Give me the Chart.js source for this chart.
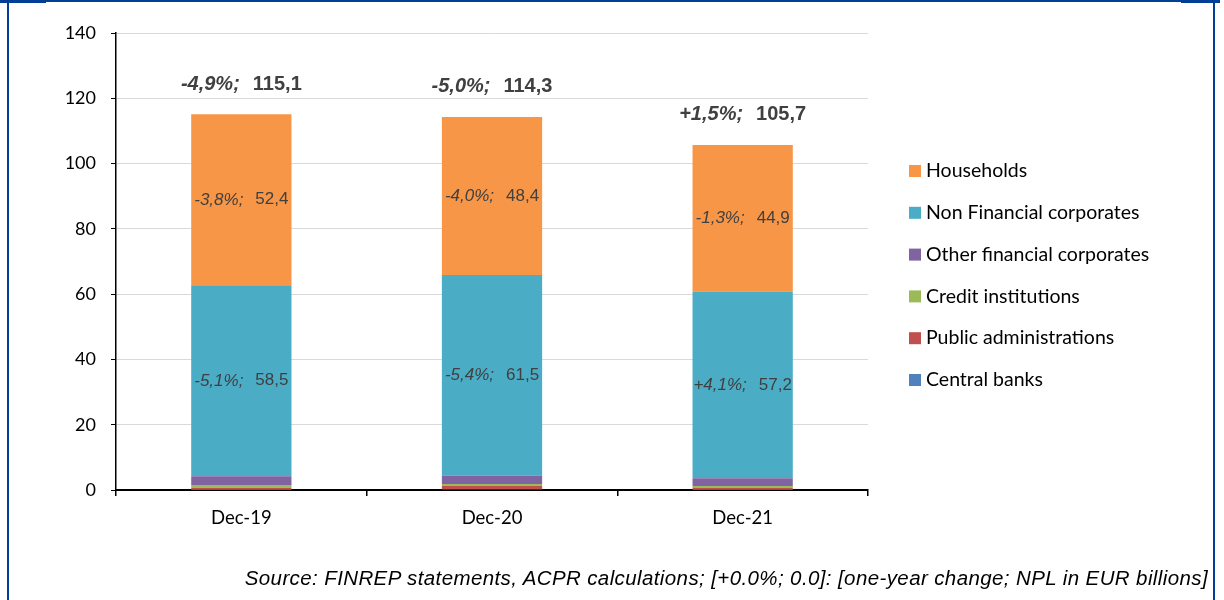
<!DOCTYPE html>
<html>
<head>
<meta charset="utf-8">
<script src="https://cdn.jsdelivr.net/npm/chart.js@4.4.1/dist/chart.umd.min.js"></script>
<style>
  html, body { margin: 0; padding: 0; background: #fff; }
  #wrap { position: relative; width: 1224px; height: 600px; overflow: hidden; }
  #chart { position: absolute; left: 0; top: 0; }
  .frame { position: absolute; background: #003f95; }
  #source {
    position: absolute; right: 16px; top: 566px;
    font-family: "Liberation Sans", Arial, sans-serif; font-style: italic;
    font-size: 20.5px; letter-spacing: 0.39px; color: #000; white-space: nowrap;
  }
</style>
</head>
<body>
<div id="wrap">
  <canvas id="chart" width="1224" height="600"></canvas>
  <div class="frame" style="left:0;top:0;width:46px;height:3px"></div>
  <div class="frame" style="left:46px;top:0;width:1135px;height:2px"></div>
  <div class="frame" style="left:1181px;top:0;width:39px;height:3px"></div>
  <div class="frame" style="left:7px;top:0;width:2px;height:600px"></div>
  <div class="frame" style="left:1213px;top:0;width:2px;height:600px"></div>
  <div id="source">Source: FINREP statements, ACPR calculations; [+0.0%; 0.0]: [one-year change; NPL in EUR billions]</div>
</div>
<script>
// Non-performing loans by counterparty, EUR billions
const categories = ['Dec-19', 'Dec-20', 'Dec-21'];

const centralBanks      = [0.1, 0.2, 0.1];
const publicAdmin       = [0.6, 1.0, 0.5];
const creditInst        = [0.8, 0.6, 0.6];
const otherFinancial    = [2.7, 2.6, 2.4];
const nonFinancialCorp  = [58.5, 61.5, 57.2];
const households        = [52.4, 48.4, 44.9];

// one-year changes
const nfcChange   = ['-5,1%', '-5,4%', '+4,1%'];
const hhChange    = ['-3,8%', '-4,0%', '-1,3%'];
const totalChange = ['-4,9%', '-5,0%', '+1,5%'];

const yTicks = [0, 20, 40, 60, 80, 100, 120, 140];

const fmt = v => v.toFixed(1).replace('.', ',');

const series = [
  { label: 'Central banks', data: centralBanks, color: '#4f81bd' },
  { label: 'Public administrations', data: publicAdmin, color: '#c0504d' },
  { label: 'Credit institutions', data: creditInst, color: '#9bbb59' },
  { label: 'Other financial corporates', data: otherFinancial, color: '#8064a2' },
  { label: 'Non Financial corporates', data: nonFinancialCorp, color: '#4bacc6', changes: nfcChange },
  { label: 'Households', data: households, color: '#f79646', changes: hhChange }
];

const totals = categories.map((_, i) => series.reduce((s, d) => s + d.data[i], 0));

function drawPair(ctx, x, y, italicText, plainText, size, weight, gap) {
  ctx.save();
  ctx.textBaseline = 'middle';
  ctx.fillStyle = '#404040';
  const fi = `italic ${weight} ${size}px "Liberation Sans", Arial, sans-serif`;
  const fp = `${weight} ${size}px "Liberation Sans", Arial, sans-serif`;
  ctx.font = fi; const w1 = ctx.measureText(italicText).width;
  ctx.font = fp; const w2 = ctx.measureText(plainText).width;
  const start = x - (w1 + gap + w2) / 2;
  ctx.textAlign = 'left';
  ctx.font = fi; ctx.fillText(italicText, start, y);
  ctx.font = fp; ctx.fillText(plainText, start + w1 + gap, y);
  ctx.restore();
}

const labelPlugin = {
  id: 'npLabels',
  afterDatasetsDraw(chart) {
    const ctx = chart.ctx;
    chart.data.datasets.forEach((ds, di) => {
      if (!ds.changes) return;
      const meta = chart.getDatasetMeta(di);
      meta.data.forEach((bar, i) => {
        const yc = (bar.y + bar.base) / 2;
        drawPair(ctx, bar.x, yc, ds.changes[i] + ';', fmt(ds.data[i]), 17, 'normal', 12);
      });
    });
    const yScale = chart.scales.y;
    const topMeta = chart.getDatasetMeta(chart.data.datasets.length - 1);
    topMeta.data.forEach((bar, i) => {
      const y = yScale.getPixelForValue(totals[i]) - 30;
      drawPair(ctx, bar.x, y, totalChange[i] + ';', fmt(totals[i]), 20, 'bold', 13);
    });
  }
};

const legendPlugin = {
  id: 'sideLegend',
  afterDraw(chart) {
    const ctx = chart.ctx;
    const ds = chart.data.datasets.slice().reverse();
    ctx.save();
    ctx.font = '19.5px Lato, sans-serif';
    ctx.textBaseline = 'middle';
    ctx.textAlign = 'left';
    ds.forEach((d, i) => {
      const y = 171 + i * 41.8;
      ctx.fillStyle = d.backgroundColor;
      ctx.fillRect(909, y - 6, 12, 12);
      ctx.fillStyle = '#000';
      ctx.fillText(d.label, 926, y);
    });
    ctx.restore();
  }
};

new Chart(document.getElementById('chart'), {
  type: 'bar',
  data: {
    labels: categories,
    datasets: series.map(s => ({
      label: s.label,
      data: s.data,
      backgroundColor: s.color,
      borderWidth: 0,
      changes: s.changes,
      barPercentage: 0.4,
      categoryPercentage: 1.0
    }))
  },
  options: {
    responsive: false,
    animation: false,
    layout: { padding: { top: 33, right: 356, left: 0, bottom: 0 } },
    plugins: { legend: { display: false }, tooltip: { enabled: false } },
    scales: {
      x: {
        stacked: true,
        grid: { offset: true, drawOnChartArea: false, tickLength: 6, tickColor: '#000', lineWidth: 1.5 },
        border: { color: '#000', width: 2 },
        ticks: { color: '#000', font: { family: 'Lato', size: 18.5 }, padding: 11 },
        afterFit: s => { s.height = 110; }
      },
      y: {
        stacked: true,
        min: 0, max: 140,
        afterBuildTicks: s => { s.ticks = yTicks.map(v => ({ value: v })); },
        grid: {
          color: c => (c.tick && c.tick.value === 0) ? 'rgba(0,0,0,0)' : '#d9d9d9',
          lineWidth: 1, tickLength: 5, tickColor: '#000'
        },
        border: { color: '#000', width: 1.5 },
        ticks: { color: '#000', font: { family: 'Lato', size: 18 }, padding: 15 },
        afterFit: s => { s.width = 116; }
      }
    }
  },
  plugins: [labelPlugin, legendPlugin]
});
</script>
</body>
</html>
